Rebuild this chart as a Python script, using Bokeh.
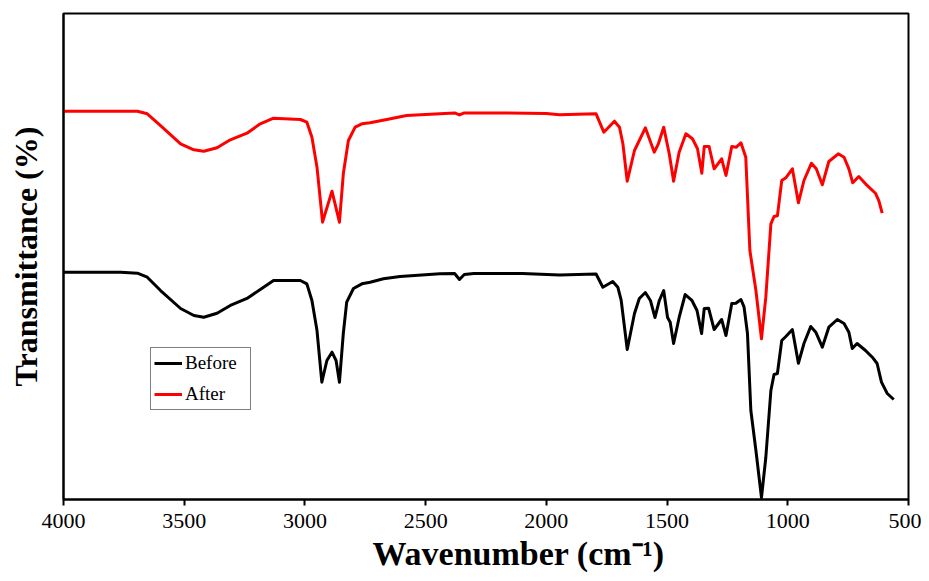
from bokeh.plotting import figure
from bokeh.models import Range1d, FixedTicker, Legend, LegendItem, Title
from bokeh.embed import file_html
from bokeh.resources import INLINE

# Wavenumber (cm-1) and transmittance (arbitrary %, offset traces)
before_wn = [4000, 3763, 3694, 3653, 3598, 3515, 3460, 3419, 3364, 3309, 3240, 3185, 3130,
             3019, 2992, 2971, 2950, 2930, 2909, 2888, 2871, 2857, 2841, 2827, 2799, 2764,
             2730, 2675, 2606, 2441, 2380, 2360, 2340, 2300, 2100, 1945, 1794, 1766, 1725,
             1704, 1690, 1665, 1635, 1615, 1590, 1569, 1550, 1532, 1514, 1498, 1487, 1473,
             1450, 1425, 1397, 1376, 1357, 1346, 1328, 1305, 1274, 1256, 1232, 1215, 1194,
             1181, 1167, 1153, 1132, 1109, 1091, 1070, 1057, 1043, 1025, 1008, 981, 956,
             933, 905, 884, 857, 830, 795, 767, 747, 733, 713, 678, 650, 630, 612, 588, 561]
before_t = [46.77, 46.77, 46.56, 45.74, 43.00, 39.30, 37.86, 37.51, 38.33, 39.92, 41.36, 43.21,
            45.06, 45.06, 44.38, 40.95, 34.77, 24.14, 28.60, 30.31, 28.60, 24.14, 34.16, 40.60,
            43.42, 44.38, 44.71, 45.41, 45.88, 46.44, 46.50, 45.27, 46.30, 46.50, 46.50, 46.19,
            46.40, 43.68, 44.86, 43.68, 40.95, 30.86, 38.27, 41.36, 42.59, 40.95, 37.45, 40.95,
            43.00, 37.45, 36.48, 32.10, 37.45, 42.18, 40.95, 38.89, 34.16, 39.30, 39.36, 34.98,
            37.04, 33.74, 40.33, 40.39, 41.15, 39.57, 34.16, 18.31, 10.08, 0.41, 8.64, 22.43,
            25.72, 25.93, 32.72, 33.54, 34.98, 28.04, 32.10, 35.60, 34.42, 31.34, 35.45, 37.04,
            36.21, 34.42, 31.07, 32.10, 30.66, 29.28, 27.98, 24.14, 21.81, 20.58]

after_wn = [4000, 3694, 3653, 3598, 3515, 3460, 3419, 3364, 3309, 3240, 3185, 3130, 3019,
            2992, 2971, 2950, 2927, 2888, 2857, 2841, 2820, 2792, 2764, 2730, 2661, 2579,
            2441, 2380, 2360, 2340, 2200, 2000, 1945, 1794, 1762, 1718, 1697, 1683, 1665,
            1635, 1590, 1553, 1536, 1514, 1491, 1473, 1450, 1422, 1395, 1374, 1356, 1346,
            1326, 1305, 1274, 1256, 1232, 1213, 1194, 1174, 1157, 1132, 1109, 1091, 1070,
            1057, 1043, 1025, 1008, 981, 956, 933, 902, 882, 857, 830, 791, 767, 747, 731,
            706, 678, 637, 623, 609]
after_t = [79.90, 79.90, 79.36, 76.95, 73.19, 71.95, 71.67, 72.37, 74.01, 75.37, 77.30, 78.46,
           78.19, 77.63, 74.55, 68.37, 57.06, 63.44, 57.06, 67.02, 73.87, 76.61, 77.30, 77.51,
           78.19, 79.01, 79.36, 79.53, 79.12, 79.53, 79.53, 79.42, 79.16, 79.36, 75.58, 77.84,
           76.61, 73.19, 65.49, 71.81, 76.48, 71.46, 73.19, 76.61, 71.13, 65.49, 71.46, 75.25,
           74.22, 72.16, 67.14, 72.63, 72.63, 68.04, 70.10, 66.67, 72.63, 72.49, 73.40, 70.43,
           51.23, 43.00, 33.07, 41.63, 56.73, 58.23, 58.37, 65.64, 66.19, 68.04, 61.05, 65.64,
           69.20, 68.04, 64.75, 69.55, 71.13, 70.43, 68.04, 65.16, 66.46, 64.96, 63.02, 61.52,
           58.91]

x_ticks = [4000, 3500, 3000, 2500, 2000, 1500, 1000, 500]
series_names = ["Before", "After"]
series_colors = ["#000000", "#ff0000"]
x_title = "Wavenumber (cm\u207b\u00b9)"
y_title = "Transmittance (%)"

FONT = "Liberation Serif"

p = figure(width=921, height=581, output_backend="svg", toolbar_location=None,
           x_range=Range1d(4000, 500), y_range=Range1d(0, 100),
           min_border_left=63, min_border_right=13, min_border_top=13, min_border_bottom=82)

r1 = p.line(before_wn, before_t, line_color=series_colors[0], line_width=3, line_join="round")
r2 = p.line(after_wn, after_t, line_color=series_colors[1], line_width=3, line_join="round")

p.xgrid.visible = False
p.ygrid.visible = False
p.outline_line_color = "black"
p.outline_line_width = 2

xa = p.xaxis[0]
xa.ticker = FixedTicker(ticks=x_ticks)
xa.major_label_text_font = FONT
xa.major_label_text_font_size = "22px"
xa.major_label_text_color = "black"
xa.major_label_standoff = 8
xa.major_tick_in = 0
xa.major_tick_out = 6
xa.major_tick_line_width = 2
xa.major_tick_line_color = "black"
xa.minor_tick_line_color = None
xa.axis_line_width = 2
xa.axis_line_color = "black"

xt = Title(text=x_title, align="left", offset=309, standoff=4, vertical_align="bottom",
           text_font=FONT, text_font_style="bold", text_font_size="34px", text_color="black")
p.add_layout(xt, "below")

ya = p.yaxis[0]
ya.ticker = FixedTicker(ticks=[])
ya.axis_label = y_title
ya.axis_label_text_font = FONT
ya.axis_label_text_font_style = "bold"
ya.axis_label_text_font_size = "32px"
ya.axis_label_text_color = "black"
ya.axis_label_standoff = 20
ya.major_tick_line_color = None
ya.minor_tick_line_color = None
ya.axis_line_width = 2
ya.axis_line_color = "black"

legend = Legend(items=[LegendItem(label=series_names[0], renderers=[r1]),
                       LegendItem(label=series_names[1], renderers=[r2])],
                location=(87, 89))
legend.label_text_font = FONT
legend.label_text_font_size = "19px"
legend.label_text_color = "black"
legend.border_line_color = "black"
legend.border_line_width = 1
legend.background_fill_alpha = 1
legend.padding = 3
legend.margin = 0
legend.spacing = 7
legend.glyph_width = 28
legend.glyph_height = 24
legend.label_height = 24
legend.label_width = 62
legend.label_standoff = 3
p.add_layout(legend)

open("out.html", "w").write(file_html(p, INLINE))
